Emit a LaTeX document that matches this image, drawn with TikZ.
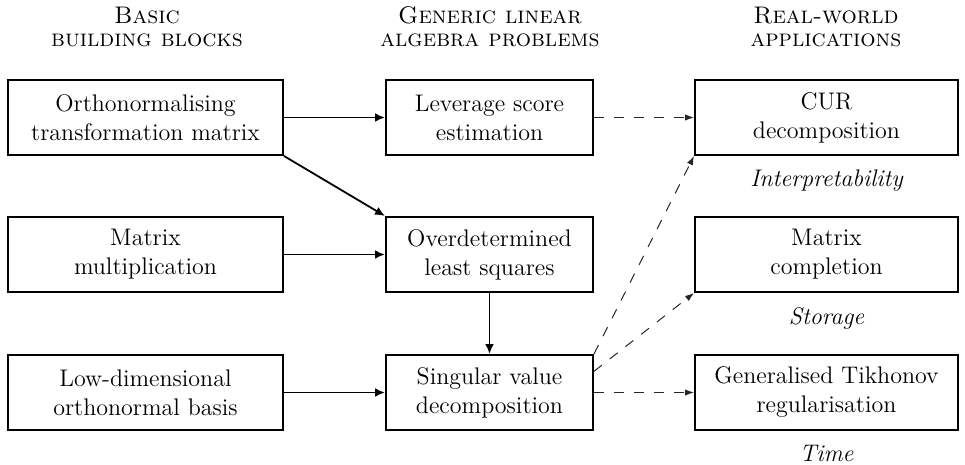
\documentclass[tikz,border=0pt]{standalone}
\usetikzlibrary{arrows.meta,calc}
\begin{document}
\begin{tikzpicture}[x=0.5pt,y=-0.5pt,
  every node/.style={font=\fontsize{12}{14.5}\selectfont},
  box/.style={draw,line width=1pt,rectangle,inner sep=0pt,align=center,minimum height=37.5pt},
  lbox/.style={box,minimum width=137.5pt},
  mbox/.style={box,minimum width=103.5pt},
  rbox/.style={box,minimum width=131.5pt},
  hdr/.style={align=center,inner sep=0pt,font=\fontsize{12}{11.5}\selectfont\scshape},
  lbl/.style={font=\fontsize{12}{14.5}\selectfont\itshape},
  solidarr/.style={line width=0.9pt,-{Latex[length=5pt,width=4.4pt]}},
  dasharr/.style={line width=0.5pt,black!85,dash pattern=on 5pt off 5pt,-{Latex[length=4.5pt,width=3.2pt]}}
]
\useasboundingbox (0,0) rectangle (965,465);
% headers
\node[hdr] (h1) at (147,27) {Basic\\building blocks};
\node[hdr] (h2) at (490,27) {Generic linear\\algebra problems};
\node[hdr] (h3) at (826,27) {Real-world\\applications};
% left
\node[lbox] (ortho) at (145.5,117.5) {Orthonormalising\\transformation matrix};
\node[lbox] (mm) at (145.5,254.5) {Matrix\\multiplication};
\node[lbox] (low) at (145.5,392.5) {Low-dimensional\\orthonormal basis};
% middle
\node[mbox] (lev) at (489.5,117.5) {Leverage score\\estimation};
\node[mbox] (ols) at (489.5,254.5) {Overdetermined\\least squares};
\node[mbox] (svd) at (489.5,392.5) {Singular value\\decomposition};
% right
\node[rbox] (cur) at (826.5,117.5) {CUR\\decomposition};
\node[rbox] (mc) at (826.5,254.5) {Matrix\\completion};
\node[rbox] (tik) at (826.5,392.5) {Generalised Tikhonov\\regularisation};
% labels
\node[lbl] (l1) at (826.5,181) {Interpretability};
\node[lbl] (l2) at (826.5,318) {Storage};
\node[lbl] (l3) at (826.5,453) {Time};
% solid arrows
\draw[solidarr] (ortho) -- (lev);
\draw[solidarr] (ortho.south east) -- (ols.north west);
\draw[solidarr] (mm) -- (ols);
\draw[solidarr] (ols) -- (svd);
\draw[solidarr] (low) -- (svd);
% dashed arrows
\draw[dasharr] (lev) -- (cur);
\draw[dasharr] (svd.north east) -- (cur.south west);
\draw[dasharr] ($(svd.east)!0.55!(svd.north east)$) -- (mc.south west);
\draw[dasharr] (svd) -- (tik);
\end{tikzpicture}
\end{document}
